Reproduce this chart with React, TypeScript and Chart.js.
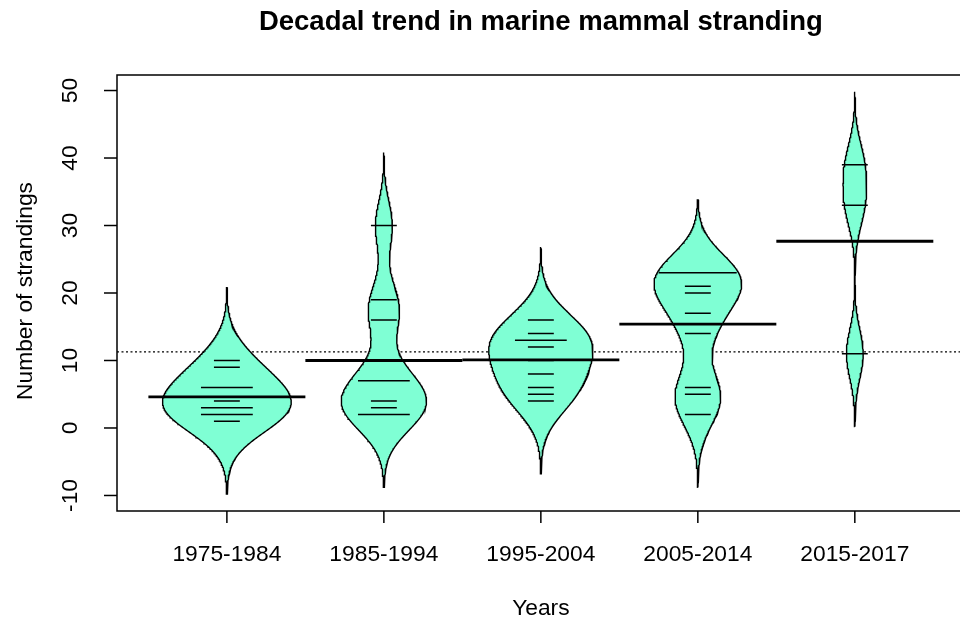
import React, { useEffect, useRef } from "react";
import { Chart, registerables } from "chart.js";

Chart.register(...registerables);

// ---- data ----
const categories = ["1975-1984", "1985-1994", "1995-2004", "2005-2014", "2015-2017"];
const strandings1975 = [10, 9, 6, 6, 4, 3, 3, 2, 2, 1];
const strandings1985 = [30, 19, 16, 7, 7, 4, 3, 2, 2];
const strandings1995 = [16, 14, 13, 13, 12, 10, 8, 6, 5, 4];
const strandings2005 = [23, 23, 23, 21, 20, 17, 14, 6, 5, 2];
const strandings2015 = [39, 33, 11];
const yTickValues = [-10, 0, 10, 20, 30, 40, 50];
const kernelBandwidth = 3.6;

const TITLE = "Decadal trend in marine mammal stranding";
const X_TITLE = "Years";
const Y_TITLE = "Number of strandings";

const FONT = '"Liberation Sans", Arial, Helvetica, sans-serif';
const BEAN_FILL = "#7FFFD4";

export default function App() {
  const ref = useRef<HTMLCanvasElement>(null);

  useEffect(() => {
    document.body.style.margin = "0";
    const canvas = ref.current;
    if (!canvas) return;

    const groups = [strandings1975, strandings1985, strandings1995, strandings2005, strandings2015];
    const maxHalfWidth = 0.41;
    const lineUnit = 0.165;
    const kern = (z: number) => Math.exp(-0.5 * z * z);

    // kernel density (unnormalised by n, like the bean widths in the reference)
    const profiles = groups.map((vals) => {
      const lo = Math.min(...vals) - 3 * kernelBandwidth;
      const hi = Math.max(...vals) + 3 * kernelBandwidth;
      const steps = 300;
      const ys: number[] = [];
      const ds: number[] = [];
      for (let i = 0; i <= steps; i++) {
        const y = lo + ((hi - lo) * i) / steps;
        let s = 0;
        for (const v of vals) s += kern((y - v) / kernelBandwidth);
        ys.push(y);
        ds.push(s);
      }
      return { ys, ds };
    });
    const dMax = Math.max(...profiles.map((p) => Math.max(...p.ds)));

    const allValues = groups.flat();
    const grandMean = allValues.reduce((a, b) => a + b, 0) / allValues.length;

    const xMin = 0.3;
    const xMax = 5.67;

    const datasets: any[] = [];

    // overall mean dotted line (behind beans)
    datasets.push({
      data: [
        { x: xMin, y: grandMean },
        { x: xMax, y: grandMean },
      ],
      showLine: true,
      borderColor: "#000",
      borderWidth: 1.3,
      borderDash: [2, 2.5],
      pointRadius: 0,
      fill: false,
      order: 100,
    });

    // beans
    profiles.forEach((p, gi) => {
      const c = gi + 1;
      const pts: { x: number; y: number }[] = [];
      for (let i = 0; i < p.ys.length; i++) {
        pts.push({ x: c - (maxHalfWidth * p.ds[i]) / dMax, y: p.ys[i] });
      }
      for (let i = p.ys.length - 1; i >= 0; i--) {
        pts.push({ x: c + (maxHalfWidth * p.ds[i]) / dMax, y: p.ys[i] });
      }
      pts.push({ x: pts[0].x, y: pts[0].y });
      datasets.push({
        data: pts,
        showLine: true,
        borderColor: "#000",
        borderWidth: 1.4,
        backgroundColor: BEAN_FILL,
        pointRadius: 0,
        fill: "shape",
        tension: 0,
        order: 50,
      });
    });

    // bean lines (one per distinct value, longer for repeated values)
    groups.forEach((vals, gi) => {
      const c = gi + 1;
      const counts = new Map<number, number>();
      vals.forEach((v) => counts.set(v, (counts.get(v) || 0) + 1));
      counts.forEach((n, v) => {
        const half = (lineUnit * n) / 2;
        datasets.push({
          data: [
            { x: c - half, y: v },
            { x: c + half, y: v },
          ],
          showLine: true,
          borderColor: "#000",
          borderWidth: 1.5,
          pointRadius: 0,
          fill: false,
          order: 10,
        });
      });
    });

    // bean mean lines
    groups.forEach((vals, gi) => {
      const c = gi + 1;
      const m = vals.reduce((a, b) => a + b, 0) / vals.length;
      datasets.push({
        data: [
          { x: c - 0.5, y: m },
          { x: c + 0.5, y: m },
        ],
        showLine: true,
        borderColor: "#000",
        borderWidth: 2.8,
        pointRadius: 0,
        fill: false,
        order: 5,
      });
    });

    const axesPlugin = {
      id: "rAxes",
      afterDraw(chart: any) {
        const ctx = chart.ctx as CanvasRenderingContext2D;
        const { left, top, bottom, right } = chart.chartArea;
        const xs = chart.scales.x;
        const ys = chart.scales.y;
        ctx.save();
        ctx.strokeStyle = "#000";
        ctx.fillStyle = "#000";
        ctx.lineWidth = 1.5;
        // box (right side is beyond the picture)
        ctx.strokeRect(left, top, right - left + 20, bottom - top);

        // y ticks + rotated labels
        ctx.font = `22.8px ${FONT}`;
        ctx.textAlign = "center";
        ctx.textBaseline = "middle";
        yTickValues.forEach((v) => {
          const py = ys.getPixelForValue(v);
          ctx.beginPath();
          ctx.moveTo(left - 13, py);
          ctx.lineTo(left, py);
          ctx.stroke();
          ctx.save();
          ctx.translate(70, py);
          ctx.rotate(-Math.PI / 2);
          ctx.fillText(String(v), 0, 1);
          ctx.restore();
        });

        // x ticks + labels
        categories.forEach((cat, i) => {
          const px = xs.getPixelForValue(i + 1);
          ctx.beginPath();
          ctx.moveTo(px, bottom);
          ctx.lineTo(px, bottom + 12);
          ctx.stroke();
          ctx.textBaseline = "alphabetic";
          ctx.fillText(cat, px, 561);
        });

        // axis titles
        const plotCenter = (left + xs.getPixelForValue(5.7)) / 2;
        ctx.textBaseline = "alphabetic";
        ctx.fillText(X_TITLE, plotCenter, 615);
        ctx.save();
        ctx.translate(32, (top + bottom) / 2 - 2);
        ctx.rotate(-Math.PI / 2);
        ctx.fillText(Y_TITLE, 0, 0);
        ctx.restore();

        // main title
        ctx.font = `bold 27.5px ${FONT}`;
        ctx.fillText(TITLE, plotCenter, 30);
        ctx.restore();
      },
    };

    const chart = new Chart(canvas, {
      type: "scatter",
      data: { datasets },
      options: {
        animation: false,
        responsive: false,
        devicePixelRatio: 1,
        layout: { padding: { left: 117, top: 75, right: 0, bottom: 109 } },
        scales: {
          x: { type: "linear", min: xMin, max: xMax, display: false },
          y: { type: "linear", min: -12.3, max: 52.3, display: false },
        },
        plugins: {
          legend: { display: false },
          tooltip: { enabled: false },
          title: { display: false },
        },
        events: [],
      },
      plugins: [axesPlugin],
    });

    return () => chart.destroy();
  }, []);

  return (
    <div style={{ width: 960, height: 620, background: "#fff", overflow: "hidden" }}>
      <canvas ref={ref} width={960} height={620} style={{ display: "block" }} />
    </div>
  );
}
